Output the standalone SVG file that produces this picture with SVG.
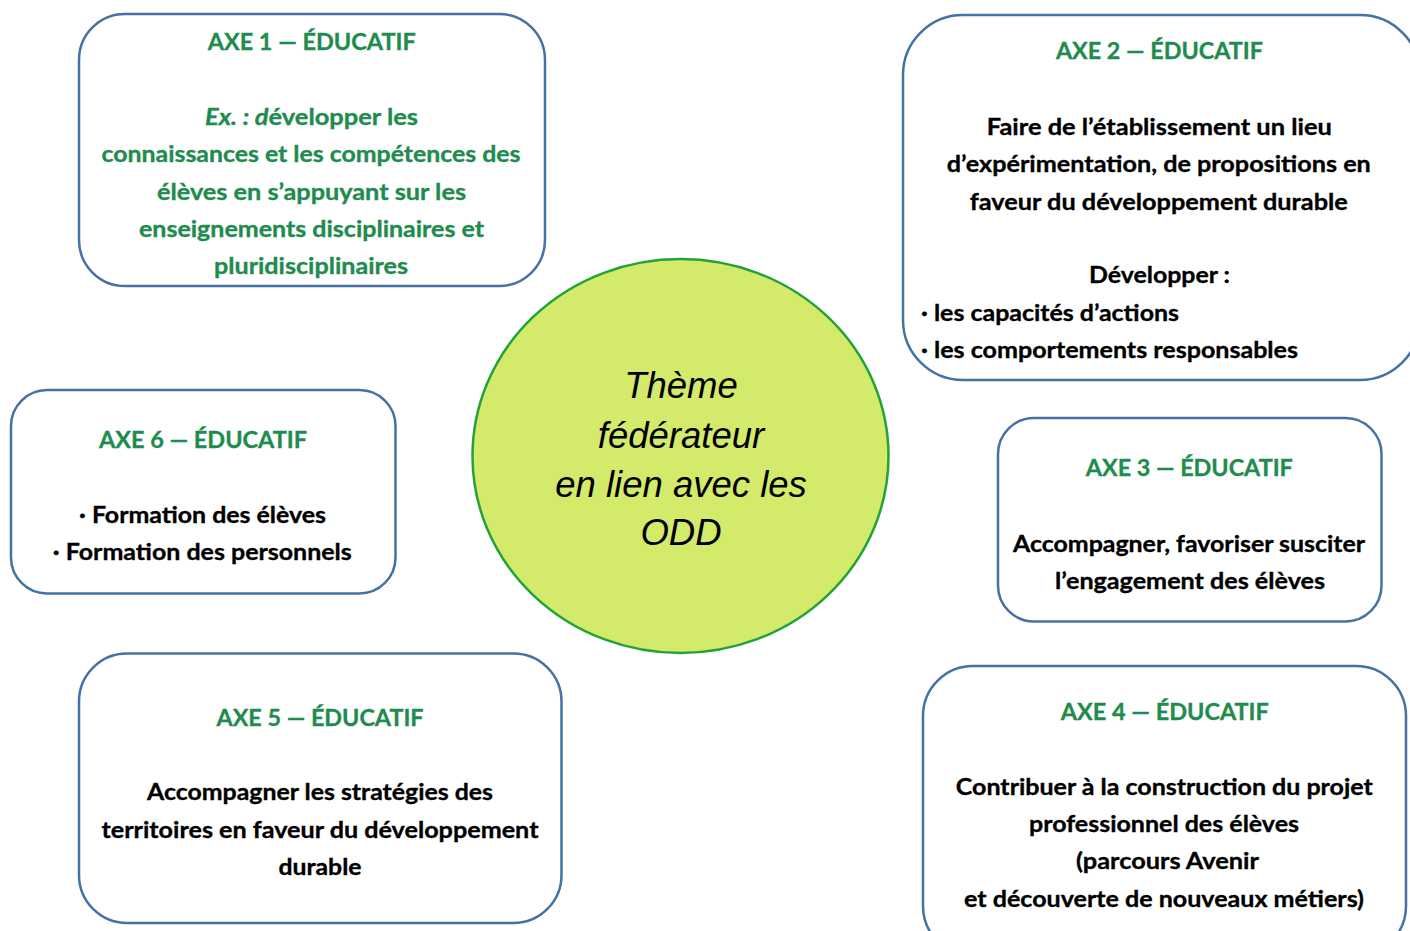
<svg xmlns="http://www.w3.org/2000/svg" width="1410" height="931" viewBox="0 0 1410 931">
<style>
.box{fill:#fff;stroke:#4472A4;stroke-width:2.5}
.t{font-family:Lato,"Open Sans","Liberation Sans",sans-serif;font-weight:bold;font-size:23.5px;text-anchor:middle;stroke-width:0.35}
.g{fill:#1F8B4E;stroke:#1F8B4E}
.k{fill:#000;stroke:#000}
.s{text-anchor:start}
.c{font-family:"Liberation Sans",Arial,sans-serif;font-style:italic;font-size:36.5px;text-anchor:middle;fill:#000}
</style>
<rect width="1410" height="931" fill="#fff"/>
<g id="connectors"/>
<g id="axe1">
<rect class="box" x="79" y="14" width="466" height="272" rx="46" ry="46"/>
<text class="t g" x="311.7" y="50" textLength="208" lengthAdjust="spacingAndGlyphs">AXE 1 — ÉDUCATIF</text>
<text class="t g" x="311.5" y="125" textLength="213" lengthAdjust="spacingAndGlyphs"><tspan font-style="italic">Ex. : d</tspan>évelopper les</text>
<text class="t g" x="311" y="162" textLength="419" lengthAdjust="spacingAndGlyphs">connaissances et les compétences des</text>
<text class="t g" x="311.5" y="199.5" textLength="309" lengthAdjust="spacingAndGlyphs">élèves en s’appuyant sur les</text>
<text class="t g" x="311.5" y="236.5" textLength="345" lengthAdjust="spacingAndGlyphs">enseignements disciplinaires et</text>
<text class="t g" x="311" y="273.5" textLength="194" lengthAdjust="spacingAndGlyphs">pluridisciplinaires</text>
</g>
<g id="axe2">
<rect class="box" x="903" y="15" width="517" height="365" rx="60" ry="60"/>
<text class="t g" x="1159.4" y="59" textLength="207" lengthAdjust="spacingAndGlyphs">AXE 2 — ÉDUCATIF</text>
<text class="t k" x="1159.3" y="135" textLength="345" lengthAdjust="spacingAndGlyphs">Faire de l’établissement un lieu</text>
<text class="t k" x="1158.8" y="172" textLength="424" lengthAdjust="spacingAndGlyphs">d’expérimentation, de propositions en</text>
<text class="t k" x="1158.8" y="209.5" textLength="378" lengthAdjust="spacingAndGlyphs">faveur du développement durable</text>
<text class="t k" x="1159.5" y="283" textLength="141" lengthAdjust="spacingAndGlyphs">Développer :</text>
<text class="t k s" x="921" y="321" textLength="258" lengthAdjust="spacingAndGlyphs">· les capacités d’actions</text>
<text class="t k s" x="921" y="358" textLength="377" lengthAdjust="spacingAndGlyphs">· les comportements responsables</text>
</g>
<g id="axe6">
<rect class="box" x="11" y="390" width="384.5" height="203.5" rx="36" ry="36"/>
<text class="t g" x="203" y="448" textLength="208" lengthAdjust="spacingAndGlyphs">AXE 6 — ÉDUCATIF</text>
<text class="t k" x="202.5" y="523" textLength="247" lengthAdjust="spacingAndGlyphs">· Formation des élèves</text>
<text class="t k" x="202.3" y="560" textLength="299" lengthAdjust="spacingAndGlyphs">· Formation des personnels</text>
</g>
<g id="axe3">
<rect class="box" x="998" y="418" width="383.5" height="203.5" rx="36" ry="36"/>
<text class="t g" x="1189.3" y="476" textLength="207" lengthAdjust="spacingAndGlyphs">AXE 3 — ÉDUCATIF</text>
<text class="t k" x="1189" y="552" textLength="352" lengthAdjust="spacingAndGlyphs">Accompagner, favoriser susciter</text>
<text class="t k" x="1190" y="589" textLength="270" lengthAdjust="spacingAndGlyphs">l’engagement des élèves</text>
</g>
<g id="axe5">
<rect class="box" x="79" y="653.5" width="482.5" height="269.5" rx="48" ry="48"/>
<text class="t g" x="320" y="726" textLength="207" lengthAdjust="spacingAndGlyphs">AXE 5 — ÉDUCATIF</text>
<text class="t k" x="320" y="800" textLength="346" lengthAdjust="spacingAndGlyphs">Accompagner les stratégies des</text>
<text class="t k" x="320" y="838" textLength="437" lengthAdjust="spacingAndGlyphs">territoires en faveur du développement</text>
<text class="t k" x="320" y="875" textLength="83" lengthAdjust="spacingAndGlyphs">durable</text>
</g>
<g id="axe4">
<rect class="box" x="923" y="666" width="483" height="290" rx="50" ry="50"/>
<text class="t g" x="1164.8" y="720" textLength="208" lengthAdjust="spacingAndGlyphs">AXE 4 — ÉDUCATIF</text>
<text class="t k" x="1164.3" y="795" textLength="417" lengthAdjust="spacingAndGlyphs">Contribuer à la construction du projet</text>
<text class="t k" x="1164" y="832" textLength="270" lengthAdjust="spacingAndGlyphs">professionnel des élèves</text>
<text class="t k" x="1167.5" y="869" textLength="183" lengthAdjust="spacingAndGlyphs">(parcours Avenir</text>
<text class="t k" x="1164" y="907" textLength="400" lengthAdjust="spacingAndGlyphs">et découverte de nouveaux métiers)</text>
</g>
<g id="theme">
<ellipse cx="680.5" cy="456" rx="208" ry="197" fill="#D4EA6B" stroke="#22A33A" stroke-width="2.5"/>
<text class="c" x="681" y="398">Thème</text>
<text class="c" x="681" y="448">fédérateur</text>
<text class="c" x="681" y="497">en lien avec les</text>
<text class="c" x="681" y="545">ODD</text>
</g>
</svg>
